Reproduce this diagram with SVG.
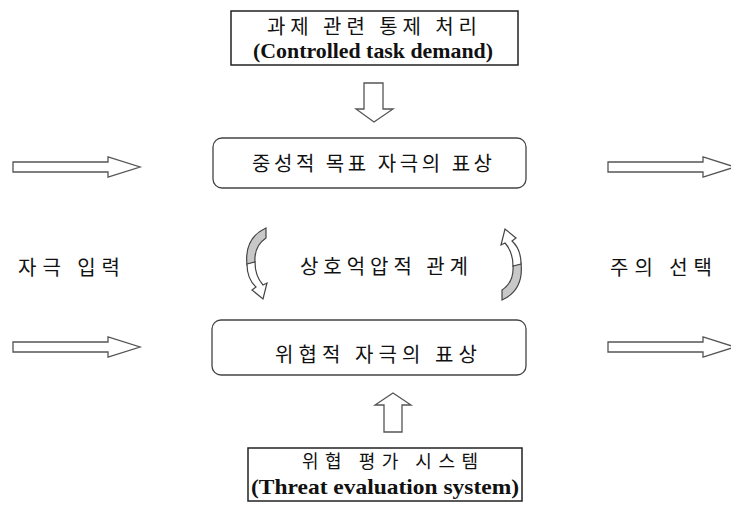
<svg xmlns="http://www.w3.org/2000/svg" width="731" height="505" viewBox="0 0 731 505">
<style>
.box{fill:#fff;stroke:#222;stroke-width:1.5}
.rbox{fill:#fff;stroke:#444;stroke-width:1.3}
.ko{font-family:"Noto Sans CJK KR","Noto Sans",sans-serif;font-size:20px;fill:#111}
.en{font-family:"Liberation Serif",serif;font-size:22px;font-weight:bold;fill:#111}
.arr{fill:#fff;stroke:#555;stroke-width:1.3;stroke-linejoin:miter}
.gray{fill:#c8c8c8;stroke:#444;stroke-width:1.2}
.curw{fill:#fff;stroke:#444;stroke-width:1.2}
</style>
<defs>
<path id="hArrow" d="M0,-5 L95,-5 L95,-10 L127,0 L95,10 L95,5 L0,5 Z"/>
<g id="curl">
<path class="gray" d="M266,228 L266,238 Q254,246 255,262 L247,265 Q244,238 266,228 Z"/>
<path class="curw" d="M247,264 Q247,279 256,287 L252,290 L263,299 L267,283 L263,285 Q255,276 255,262 Z"/>
</g>
</defs>
<g id="connectors">
<use href="#hArrow" class="arr" x="13" y="167"/>
<use href="#hArrow" class="arr" x="13" y="347"/>
<use href="#hArrow" class="arr" x="608" y="167"/>
<use href="#hArrow" class="arr" x="608" y="347"/>
<path class="arr" d="M364,83 L383,83 L383,109 L393,109 L374,122 L356,109 L364,109 Z"/>
<path class="arr" d="M384,432 L402,432 L402,405 L411,405 L393,393 L375,405 L384,405 Z"/>
<use href="#curl"/>
<use href="#curl" transform="translate(768,528) rotate(180)"/>
</g>
<g id="task">
<rect class="box" x="231" y="11" width="287" height="54"/>
<text class="ko" x="372" y="34" text-anchor="middle" textLength="210" lengthAdjust="spacing">과제 관련 통제 처리</text>
<text class="en" x="373" y="58" text-anchor="middle" textLength="240" lengthAdjust="spacingAndGlyphs">(Controlled task demand)</text>
</g>
<g id="neutral">
<rect class="rbox" x="213" y="138" width="313" height="50" rx="9"/>
<text class="ko" x="372" y="171" text-anchor="middle" textLength="240" lengthAdjust="spacing">중성적 목표 자극의 표상</text>
</g>
<g id="threat">
<rect class="rbox" x="212" y="320" width="314" height="55" rx="9"/>
<text class="ko" x="376" y="362" text-anchor="middle" textLength="202" lengthAdjust="spacing">위협적 자극의 표상</text>
</g>
<g id="mutual">
<text class="ko" x="384" y="274" text-anchor="middle" textLength="168" lengthAdjust="spacing">상호억압적 관계</text>
</g>
<g id="input">
<text class="ko" x="69" y="275" text-anchor="middle" textLength="102" lengthAdjust="spacing">자극 입력</text>
</g>
<g id="select">
<text class="ko" x="661" y="275" text-anchor="middle" textLength="102" lengthAdjust="spacing">주의 선택</text>
</g>
<g id="eval">
<rect class="box" x="248" y="448" width="274" height="53"/>
<text class="ko" x="390" y="468" text-anchor="middle" textLength="176" lengthAdjust="spacing" style="font-size:18px">위협 평가 시스템</text>
<text class="en" x="385" y="494" text-anchor="middle" textLength="268" lengthAdjust="spacingAndGlyphs" style="font-size:21px">(Threat evaluation system)</text>
</g>
</svg>
